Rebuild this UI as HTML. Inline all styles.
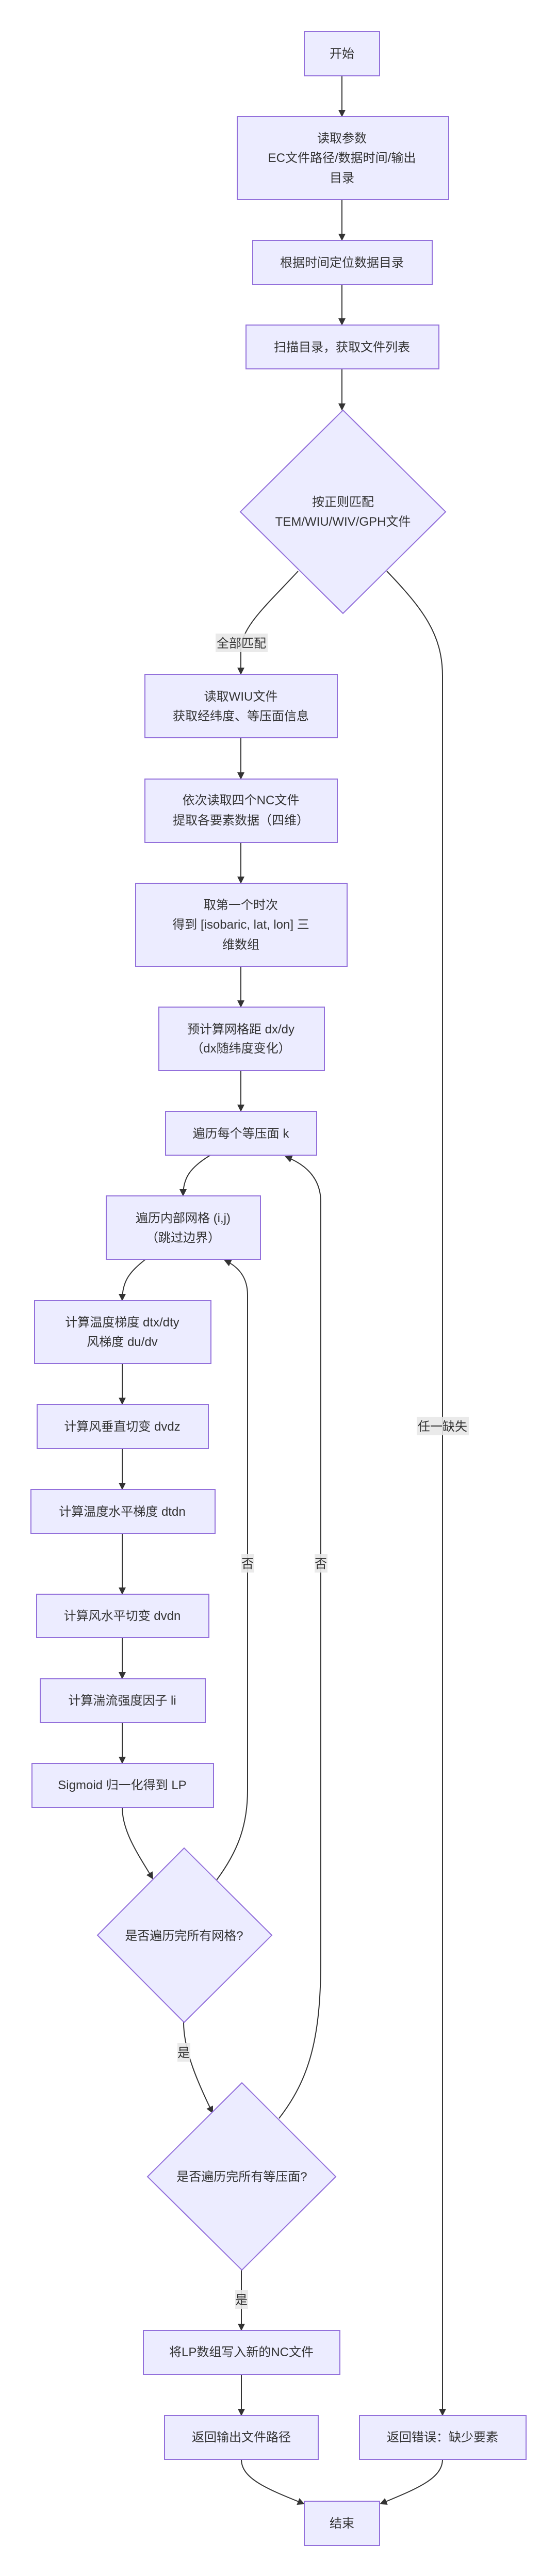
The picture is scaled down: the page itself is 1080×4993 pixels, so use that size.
<!DOCTYPE html>
<html><head><meta charset="utf-8"><style>
html,body{margin:0;padding:0;background:#fff;}
svg{display:block;}
text{font-family:"Liberation Sans","Noto Sans CJK SC",sans-serif;font-size:24px;fill:#333;}
.n{fill:#ECECFF;stroke:#9370DB;stroke-width:2;}
.e{fill:none;stroke:#333;stroke-width:2;}
.lb{fill:#e8e8e8;opacity:0.9;}
</style></head><body>
<svg width="1080" height="4993" viewBox="0 0 1080 4993" xmlns="http://www.w3.org/2000/svg">
<defs>
<marker id="a" markerWidth="14" markerHeight="14" refX="12" refY="7" orient="auto" markerUnits="userSpaceOnUse">
<path d="M0,0 L14,7 L0,14 z" fill="#333"/>
</marker>
</defs>

<!-- edges -->
<g class="e" marker-end="url(#a)">
<path d="M663,147 L663,225"/>
<path d="M663,387 L663,465"/>
<path d="M663,551 L663,629"/>
<path d="M663,715 L663,794"/>
<path d="M578,1107 C520,1170 467,1215 467,1260 L467,1306"/>
<path d="M750,1107 C820,1180 858,1230 858,1310 L858,4681"/>
<path d="M467,1430 L467,1509"/>
<path d="M467,1633 L467,1711"/>
<path d="M467,1873 L467,1951"/>
<path d="M467,2075 L467,2153"/>
<path d="M408,2239 C370,2262 355,2282 355,2317"/>
<path d="M282,2441 C252,2465 237,2482 237,2520"/>
<path d="M237,2643 L237,2721"/>
<path d="M237,2808 L237,2886"/>
<path d="M237,2972 L237,3089"/>
<path d="M237,3174 L237,3253"/>
<path d="M237,3339 L237,3417"/>
<path d="M237,3503 C237,3550 268,3595 296,3641"/>
<path d="M420,3644 C460,3590 480,3540 480,3470 L480,2510 C480,2475 462,2455 436,2443"/>
<path d="M356,3920 C356,3975 385,4040 412,4095"/>
<path d="M541,4106 C600,4030 622,3950 622,3800 L622,2330 C622,2285 595,2258 554,2242"/>
<path d="M468,4400 L468,4516"/>
<path d="M468,4602 L468,4681"/>
<path d="M468,4767 C468,4805 520,4825 589,4853"/>
<path d="M858,4767 C858,4805 805,4825 738,4853"/>
</g>

<!-- nodes -->
<rect class="n" x="590" y="61" width="146" height="86"/>
<text x="663" y="112" text-anchor="middle">开始</text>

<rect class="n" x="460" y="226" width="410" height="161"/>
<text x="663" y="276" text-anchor="middle">读取参数</text>
<text x="663" y="314" text-anchor="middle">EC文件路径/数据时间/输出</text>
<text x="663" y="353" text-anchor="middle">目录</text>

<rect class="n" x="490" y="466" width="348" height="85"/>
<text x="663" y="517" text-anchor="middle">根据时间定位数据目录</text>

<rect class="n" x="477" y="630" width="374" height="85"/>
<text x="663" y="681" text-anchor="middle">扫描目录，获取文件列表</text>

<polygon class="n" points="665,795 864,992 665,1189 466,992"/>
<text x="665" y="981" text-anchor="middle">按正则匹配</text>
<text x="665" y="1019" text-anchor="middle">TEM/WIU/WIV/GPH文件</text>

<rect class="n" x="281" y="1307" width="373" height="123"/>
<text x="467" y="1358" text-anchor="middle">读取WIU文件</text>
<text x="467" y="1396" text-anchor="middle">获取经纬度、等压面信息</text>

<rect class="n" x="281" y="1510" width="373" height="123"/>
<text x="467" y="1559" text-anchor="middle">依次读取四个NC文件</text>
<text x="467" y="1598" text-anchor="middle">提取各要素数据（四维）</text>

<rect class="n" x="263" y="1712" width="410" height="161"/>
<text x="467" y="1762" text-anchor="middle">取第一个时次</text>
<text x="467" y="1800" text-anchor="middle">得到 [isobaric, lat, lon] 三</text>
<text x="467" y="1839" text-anchor="middle">维数组</text>

<rect class="n" x="308" y="1952" width="321" height="123"/>
<text x="467" y="2003" text-anchor="middle">预计算网格距 dx/dy</text>
<text x="467" y="2040" text-anchor="middle">（dx随纬度变化）</text>

<rect class="n" x="321" y="2154" width="293" height="85"/>
<text x="467" y="2205" text-anchor="middle">遍历每个等压面 k</text>

<rect class="n" x="206" y="2318" width="299" height="123"/>
<text x="355" y="2369" text-anchor="middle">遍历内部网格 (i,j)</text>
<text x="355" y="2407" text-anchor="middle">（跳过边界）</text>

<rect class="n" x="67" y="2521" width="342" height="122"/>
<text x="237" y="2571" text-anchor="middle">计算温度梯度 dtx/dty</text>
<text x="237" y="2609" text-anchor="middle">风梯度 du/dv</text>

<rect class="n" x="72" y="2722" width="332" height="86"/>
<text x="237" y="2773" text-anchor="middle">计算风垂直切变 dvdz</text>

<rect class="n" x="60" y="2887" width="357" height="85"/>
<text x="237" y="2938" text-anchor="middle">计算温度水平梯度 dtdn</text>

<rect class="n" x="71" y="3090" width="334" height="84"/>
<text x="237" y="3140" text-anchor="middle">计算风水平切变 dvdn</text>

<rect class="n" x="78" y="3254" width="320" height="85"/>
<text x="237" y="3304" text-anchor="middle">计算湍流强度因子 li</text>

<rect class="n" x="62" y="3418" width="352" height="85"/>
<text x="237" y="3468" text-anchor="middle">Sigmoid 归一化得到 LP</text>

<polygon class="n" points="357,3582 527,3751 357,3920 189,3751"/>
<text x="357" y="3760" text-anchor="middle">是否遍历完所有网格?</text>

<polygon class="n" points="469,4037 651,4219 469,4400 286,4219"/>
<text x="469" y="4227" text-anchor="middle">是否遍历完所有等压面?</text>

<rect class="n" x="278" y="4517" width="381" height="85"/>
<text x="468" y="4567" text-anchor="middle">将LP数组写入新的NC文件</text>

<rect class="n" x="319" y="4682" width="298" height="85"/>
<text x="468" y="4732" text-anchor="middle">返回输出文件路径</text>

<rect class="n" x="697" y="4682" width="323" height="85"/>
<text x="858" y="4732" text-anchor="middle">返回错误：缺少要素</text>

<rect class="n" x="590" y="4848" width="146" height="86"/>
<text x="663" y="4899" text-anchor="middle">结束</text>

<!-- edge labels -->
<rect class="lb" x="418" y="1228" width="101" height="36"/>
<text x="468" y="1255" text-anchor="middle">全部匹配</text>

<rect class="lb" x="808" y="2746" width="101" height="36"/>
<text x="858" y="2773" text-anchor="middle">任一缺失</text>

<rect class="lb" x="468" y="3012" width="25" height="36"/>
<text x="480" y="3039" text-anchor="middle">否</text>

<rect class="lb" x="610" y="3012" width="25" height="36"/>
<text x="622" y="3039" text-anchor="middle">否</text>

<rect class="lb" x="344" y="3960" width="25" height="36"/>
<text x="356" y="3987" text-anchor="middle">是</text>

<rect class="lb" x="456" y="4439" width="25" height="36"/>
<text x="468" y="4466" text-anchor="middle">是</text>
</svg>
</body></html>
